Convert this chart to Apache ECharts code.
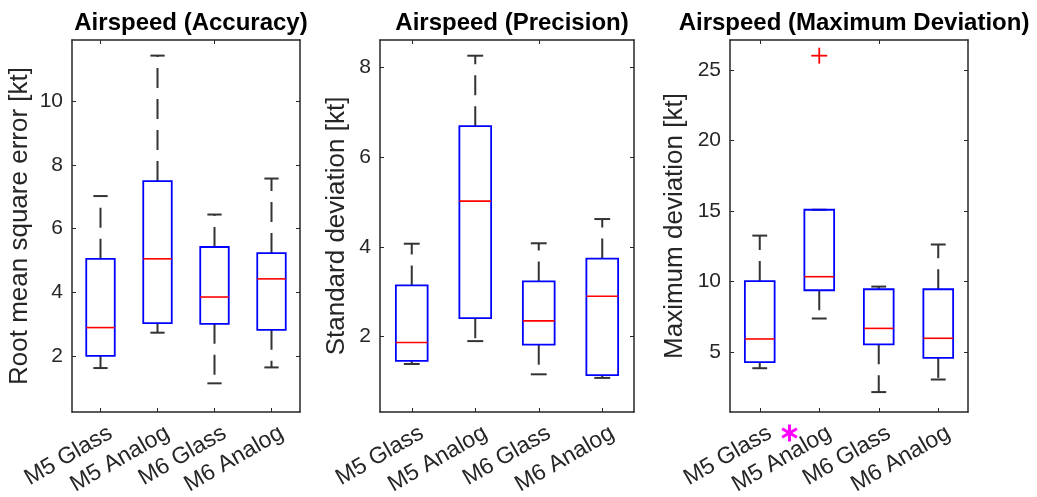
<!DOCTYPE html>
<html>
<head>
<meta charset="utf-8">
<script src="https://cdn.jsdelivr.net/npm/echarts@6/dist/echarts.min.js"></script>
<style>
html,body{margin:0;padding:0;background:#fff;}
#chart{width:1037px;height:497px;}
</style>
</head>
<body>
<div id="chart"></div>
<script>
// ---- data ----
const categories = ['M5 Glass', 'M5 Analog', 'M6 Glass', 'M6 Analog'];
// each row: [lower whisker, q1, median, q3, upper whisker]
const accuracyStats = [
  [1.62, 2.00, 2.89, 5.05, 7.02],
  [2.73, 3.03, 5.05, 7.49, 11.43],
  [1.14, 3.01, 3.85, 5.42, 6.44],
  [1.64, 2.82, 4.42, 5.23, 7.57]
];
const precisionStats = [
  [1.39, 1.46, 1.87, 3.14, 4.07],
  [1.90, 2.41, 5.02, 6.69, 8.26],
  [1.16, 1.82, 2.35, 3.23, 4.08],
  [1.08, 1.14, 2.90, 3.74, 4.62]
];
const maxDevStats = [
  [3.87, 4.30, 5.94, 10.04, 13.26],
  [7.39, 9.39, 10.35, 15.09, 15.09],
  [2.18, 5.56, 6.69, 9.46, 9.65],
  [3.07, 4.60, 5.99, 9.46, 12.63]
];
// outliers: [category index, value]
const accuracyOutliers = [];
const precisionOutliers = [];
const maxDevOutliers = [[1, 26.0]];
const accuracyTicks = [2, 4, 6, 8, 10];
const precisionTicks = [2, 4, 6, 8];
const maxDevTicks = [5, 10, 15, 20, 25];
const titles = ['Airspeed (Accuracy)', 'Airspeed (Precision)', 'Airspeed (Maximum Deviation)'];
const yNames = ['Root mean square error [kt]', 'Standard deviation [kt]', 'Maximum deviation [kt]'];

// ---- layout ----
const panels = [
  {stats: accuracyStats, outliers: accuracyOutliers, ticks: accuracyTicks, min: 0.24, max: 11.92, left: 72, width: 228, nameGap: 39},
  {stats: precisionStats, outliers: precisionOutliers, ticks: precisionTicks, min: 0.32, max: 8.61, left: 380, width: 254, nameGap: 30},
  {stats: maxDevStats, outliers: maxDevOutliers, ticks: maxDevTicks, min: 0.77, max: 27.11, left: 730, width: 238, nameGap: 42}
];
const TOP = 40, BOTTOM_Y = 412;
const FONT = '"Liberation Sans", Arial, Helvetica, sans-serif';
const AX = '#262626';

const grids = [], xAxes = [], yAxes = [], series = [], titleOpts = [];
panels.forEach((p, i) => {
  grids.push({left: p.left, top: TOP, width: p.width, height: BOTTOM_Y - TOP, containLabel: false, outerBoundsMode: 'none'});
  titleOpts.push({
    text: titles[i], left: p.left + p.width / 2, top: 6, textAlign: 'center',
    textStyle: {fontFamily: FONT, fontSize: 24, fontWeight: 'bold', color: '#000'}
  });
  const lineStyle = {color: AX, width: 1.5};
  xAxes.push({
    type: 'category', data: categories, gridIndex: i, position: 'bottom',
    axisLine: {show: true, lineStyle},
    axisTick: {show: true, inside: true, alignWithLabel: true, length: 4, lineStyle: {color: AX, width: 1}},
    axisLabel: {rotate: 30, interval: 0, fontFamily: FONT, fontSize: 23, color: AX, margin: 12,
      verticalAlign: 'top', padding: [0, -5, 0, 0], hideOverlap: false},
    splitLine: {show: false}
  });
  xAxes.push({
    type: 'category', data: categories, gridIndex: i, position: 'top',
    axisLine: {show: true, lineStyle},
    axisTick: {show: true, inside: true, alignWithLabel: true, length: 4, lineStyle: {color: AX, width: 1}},
    axisLabel: {show: false}, splitLine: {show: false}
  });
  yAxes.push({
    type: 'value', gridIndex: i, position: 'left', min: p.min, max: p.max,
    name: yNames[i], nameLocation: 'middle', nameGap: p.nameGap,
    nameTextStyle: {fontFamily: FONT, fontSize: 26, color: AX},
    axisLine: {show: true, lineStyle},
    axisTick: {show: true, inside: true, length: 4, customValues: p.ticks, lineStyle: {color: AX, width: 1}},
    axisLabel: {customValues: p.ticks, fontFamily: FONT, fontSize: 21, color: AX, margin: 9},
    splitLine: {show: false}
  });
  yAxes.push({
    type: 'value', gridIndex: i, position: 'right', min: p.min, max: p.max,
    axisLine: {show: true, lineStyle},
    axisTick: {show: true, inside: true, length: 4, customValues: p.ticks, lineStyle: {color: AX, width: 1}},
    axisLabel: {show: false}, splitLine: {show: false}
  });

  series.push({
    type: 'custom', xAxisIndex: 2 * i, yAxisIndex: 2 * i,
    data: p.stats.map((s, k) => [k].concat(s)),
    encode: {x: 0, y: [1, 2, 3, 4, 5]},
    renderItem: function (params, api) {
      const x = api.value(0);
      const lo = api.coord([x, api.value(1)]);
      const q1 = api.coord([x, api.value(2)]);
      const md = api.coord([x, api.value(3)]);
      const q3 = api.coord([x, api.value(4)]);
      const hi = api.coord([x, api.value(5)]);
      const band = api.size([1, 0])[0];
      const hw = band * 0.25, cw = band * 0.125;
      const cx = lo[0];
      const wStyle = {stroke: '#333333', lineWidth: 2, lineDash: [20, 11]};
      const cStyle = {stroke: '#333333', lineWidth: 2};
      return {
        type: 'group',
        children: [
          {type: 'line', shape: {x1: cx, y1: q3[1], x2: cx, y2: hi[1]}, style: wStyle},
          {type: 'line', shape: {x1: cx, y1: q1[1], x2: cx, y2: lo[1]}, style: wStyle},
          {type: 'line', shape: {x1: cx - cw, y1: hi[1], x2: cx + cw, y2: hi[1]}, style: cStyle},
          {type: 'line', shape: {x1: cx - cw, y1: lo[1], x2: cx + cw, y2: lo[1]}, style: cStyle},
          {type: 'rect', shape: {x: cx - hw, y: q3[1], width: 2 * hw, height: q1[1] - q3[1]},
            style: {fill: 'none', stroke: '#0000FF', lineWidth: 1.8}},
          {type: 'line', shape: {x1: cx - hw, y1: md[1], x2: cx + hw, y2: md[1]},
            style: {stroke: '#FF0000', lineWidth: 1.6}}
        ]
      };
    }
  });
  if (p.outliers.length) {
    series.push({
      type: 'custom', xAxisIndex: 2 * i, yAxisIndex: 2 * i,
      data: p.outliers,
      encode: {x: 0, y: 1},
      renderItem: function (params, api) {
        const c = api.coord([api.value(0), api.value(1)]);
        const s = 8;
        return {
          type: 'group',
          children: [
            {type: 'line', shape: {x1: c[0] - s, y1: c[1], x2: c[0] + s, y2: c[1]}, style: {stroke: '#FF0000', lineWidth: 1.8}},
            {type: 'line', shape: {x1: c[0], y1: c[1] - s, x2: c[0], y2: c[1] + s}, style: {stroke: '#FF0000', lineWidth: 1.8}}
          ]
        };
      }
    });
  }
});

const chart = echarts.init(document.getElementById('chart'), null, {renderer: 'canvas'});
chart.setOption({
  animation: false,
  backgroundColor: '#fff',
  title: titleOpts,
  grid: grids,
  xAxis: xAxes,
  yAxis: yAxes,
  series: series
});

// significance asterisk between M5 Glass and M5 Analog under the third panel
const xa = chart.convertToPixel({xAxisIndex: 4}, categories[0]);
const xb = chart.convertToPixel({xAxisIndex: 4}, categories[1]);
const starX = (xa + xb) / 2;
const starY = BOTTOM_Y + 21;
const r = 8.5;
const a = r * Math.cos(Math.PI / 6), b = r * Math.sin(Math.PI / 6);
const starStyle = {stroke: '#FF00FF', lineWidth: 3};
chart.setOption({
  graphic: [{
    type: 'group', x: starX, y: starY,
    children: [
      {type: 'line', shape: {x1: 0, y1: -r, x2: 0, y2: r}, style: starStyle},
      {type: 'line', shape: {x1: -a, y1: -b, x2: a, y2: b}, style: starStyle},
      {type: 'line', shape: {x1: -a, y1: b, x2: a, y2: -b}, style: starStyle}
    ]
  }]
});
</script>
</body>
</html>
